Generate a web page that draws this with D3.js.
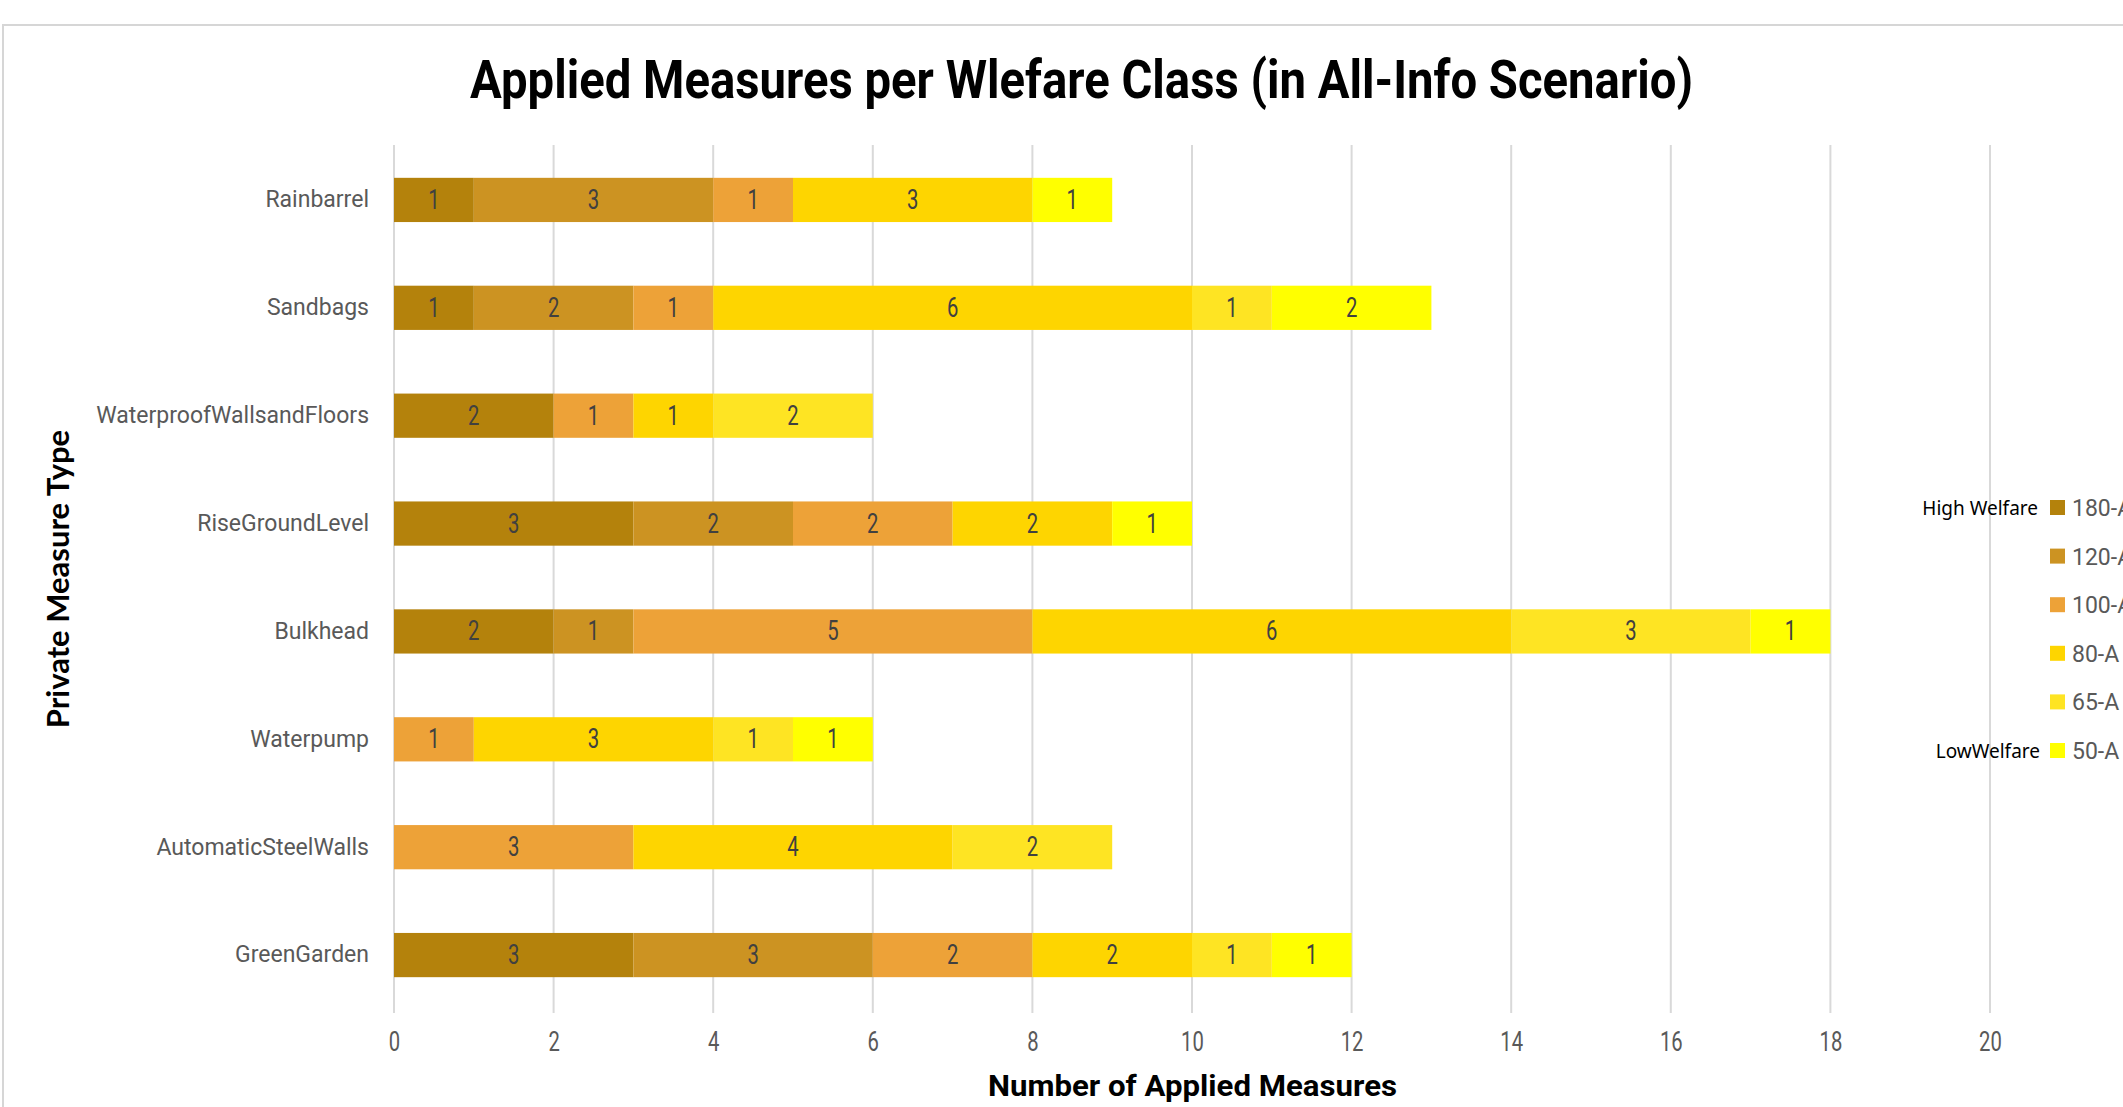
<!DOCTYPE html>
<html>
<head>
<meta charset="utf-8">
<script src="https://cdn.jsdelivr.net/npm/d3@7"></script>
<style>
  body { margin: 0; background: #fff; }
  svg { display: block; }
</style>
</head>
<body>
<div id="chart"></div>
<script>
// measure types, top to bottom
var measures = ["Rainbarrel", "Sandbags", "WaterproofWallsandFloors", "RiseGroundLevel",
  "Bulkhead", "Waterpump", "AutomaticSteelWalls", "GreenGarden"];

// welfare classes, high to low
var classes = ["180-A", "120-A", "100-A", "80-A", "65-A", "50-A"];
var classColors = ["#b4820c", "#cc9322", "#eda238", "#fed500", "#fee423", "#ffff00"];

// counts per class, same order as measures
var v180 = [1, 1, 2, 3, 2, 0, 0, 3];
var v120 = [3, 2, 0, 2, 1, 0, 0, 3];
var v100 = [1, 1, 1, 2, 5, 1, 3, 2];
var v80  = [3, 6, 1, 2, 6, 3, 4, 2];
var v65  = [0, 1, 2, 0, 3, 1, 2, 1];
var v50  = [1, 2, 0, 1, 1, 1, 0, 1];

var xTicks = [0, 2, 4, 6, 8, 10, 12, 14, 16, 18, 20];

var W = 2123, H = 1107;

var rows = measures.map(function(m, i) {
  return { measure: m, "180-A": v180[i], "120-A": v120[i], "100-A": v100[i],
           "80-A": v80[i], "65-A": v65[i], "50-A": v50[i] };
});
var series = d3.stack().keys(classes)(rows);

var svg = d3.select("#chart").append("svg")
    .attr("width", W)
    .attr("height", H);

// light frame
svg.append("rect")
    .attr("x", 3).attr("y", 25)
    .attr("width", W + 10).attr("height", H + 10)
    .attr("fill", "#fff")
    .attr("stroke", "#d6d6d6")
    .attr("stroke-width", 2);

var x = d3.scaleLinear().domain([0, 22]).range([394, 394 + 22 * 79.8]);
var y = d3.scaleBand().domain(measures).range([146, 1009])
    .paddingInner(0.59).paddingOuter(0.295);
var color = d3.scaleOrdinal().domain(classes).range(classColors);

// gridlines
svg.append("g").selectAll("line")
  .data(xTicks)
  .enter().append("line")
    .attr("x1", function(d) { return x(d); })
    .attr("x2", function(d) { return x(d); })
    .attr("y1", 145)
    .attr("y2", 1013)
    .attr("stroke", "#d9d9d9")
    .attr("stroke-width", 2);

// bars
var layer = svg.append("g").selectAll("g")
  .data(series)
  .enter().append("g")
    .attr("fill", function(d) { return color(d.key); });

layer.selectAll("rect")
  .data(function(d) { return d.filter(function(s) { return s[1] > s[0]; }); })
  .enter().append("rect")
    .attr("x", function(d) { return x(d[0]); })
    .attr("y", function(d) { return y(d.data.measure); })
    .attr("width", function(d) { return x(d[1]) - x(d[0]); })
    .attr("height", y.bandwidth());

layer.selectAll("text")
  .data(function(d) { return d.filter(function(s) { return s[1] > s[0]; }); })
  .enter().append("text")
    .attr("transform", function(d) {
      return "translate(" + x((d[0] + d[1]) / 2) + "," + (y(d.data.measure) + y.bandwidth() / 2 + 9) + ") scale(0.75,1)";
    })
    .attr("text-anchor", "middle")
    .attr("font-family", "Roboto, sans-serif")
    .attr("font-size", 27)
    .attr("fill", "#404040")
    .text(function(d) { return d[1] - d[0]; });

// x axis tick labels
var xAxis = svg.append("g")
    .attr("transform", "translate(0,1013)")
    .call(d3.axisBottom(x).tickValues(xTicks).tickSize(0).tickPadding(0));
xAxis.select(".domain").remove();
xAxis.selectAll("text")
    .attr("y", 38)
    .attr("dy", 0)
    .attr("transform", "scale(0.75,1)")
    .attr("font-family", "Roboto, sans-serif")
    .attr("font-size", 27)
    .attr("fill", "#595959");

// category labels
var yAxis = svg.append("g")
    .attr("transform", "translate(369,0)")
    .call(d3.axisLeft(y).tickSize(0).tickPadding(0));
yAxis.select(".domain").remove();
yAxis.selectAll("text")
    .attr("font-family", "Roboto, sans-serif")
    .attr("font-size", 23)
    .attr("fill", "#595959");

// titles
svg.append("text")
    .attr("x", 470).attr("y", 98)
    .attr("textLength", 1223)
    .attr("lengthAdjust", "spacingAndGlyphs")
    .attr("font-family", "Roboto, sans-serif")
    .attr("font-weight", 700)
    .attr("font-size", 54)
    .attr("fill", "#000")
    .text("Applied Measures per Wlefare Class (in All-Info Scenario)");

svg.append("text")
    .attr("x", 988).attr("y", 1096)
    .attr("textLength", 409)
    .attr("lengthAdjust", "spacingAndGlyphs")
    .attr("font-family", "Roboto, sans-serif")
    .attr("font-weight", 700)
    .attr("font-size", 30)
    .attr("fill", "#000")
    .text("Number of Applied Measures");

svg.append("text")
    .attr("transform", "translate(69,579) rotate(-90)")
    .attr("text-anchor", "middle")
    .attr("font-family", "Lato, sans-serif")
    .attr("font-weight", 700)
    .attr("font-size", 31)
    .attr("fill", "#000")
    .text("Private Measure Type");

// legend
var legend = svg.append("g").selectAll("g")
  .data(classes)
  .enter().append("g")
    .attr("transform", function(d, i) { return "translate(2050," + (508 + i * 48.6) + ")"; });

legend.append("rect")
    .attr("x", 0).attr("y", -8)
    .attr("width", 15).attr("height", 15)
    .attr("fill", function(d) { return color(d); });

legend.append("text")
    .attr("x", 22).attr("y", 8)
    .attr("font-family", "Roboto, sans-serif")
    .attr("font-size", 23)
    .attr("fill", "#595959")
    .text(function(d) { return d; });

svg.append("text")
    .attr("x", 2038).attr("y", 515)
    .attr("text-anchor", "end")
    .attr("font-family", "'Noto Sans', sans-serif")
    .attr("font-size", 19)
    .attr("fill", "#000")
    .text("High Welfare");

svg.append("text")
    .attr("x", 2040).attr("y", 758)
    .attr("text-anchor", "end")
    .attr("font-family", "'Noto Sans', sans-serif")
    .attr("font-size", 19)
    .attr("fill", "#000")
    .text("LowWelfare");
</script>
</body>
</html>
